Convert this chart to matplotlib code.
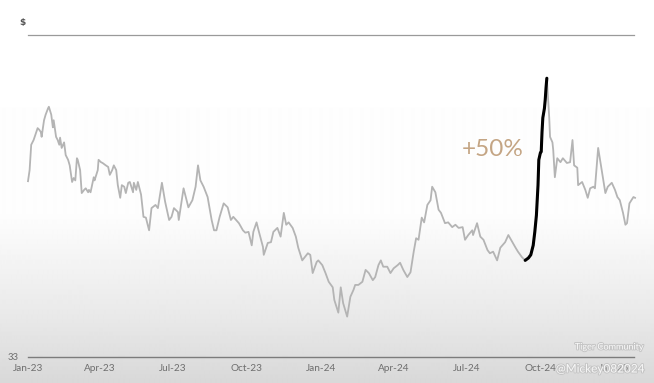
import matplotlib
matplotlib.use("Agg")
import matplotlib.pyplot as plt
import matplotlib.patheffects as pe
import numpy as np
import pandas as pd

# ---------------- data ----------------
start_date = "2022-12-30"
day_offsets = [
    2, 4, 6, 9, 12, 14, 16, 18, 19, 22, 24, 27, 28, 31, 33, 34, 37, 39, 41, 42,
    44, 47, 49, 52, 54, 57, 59, 61, 63, 64, 67, 69, 72, 74, 77, 78, 80, 84, 85, 89,
    90, 93, 95, 99, 102, 104, 107, 109, 112, 114, 117, 119, 122, 124, 127, 129, 133, 134, 137, 139,
    143, 146, 149, 153, 156, 161, 164, 169, 173, 178, 181, 184, 189, 190, 196, 199, 202, 207, 211, 214,
    217, 221, 226, 231, 234, 237, 241, 246, 251, 255, 258, 265, 270, 273, 277, 281, 283, 287, 290, 295,
    296, 301, 305, 308, 313, 317, 321, 324, 327, 332, 336, 339, 344, 351, 354, 357, 362, 364, 369, 373,
    377, 382, 384, 388, 389, 392, 395, 400, 404, 408, 410, 414, 419, 423, 427, 432, 435, 439, 442, 445,
    450, 454, 458, 463, 466, 470, 475, 479, 483, 486, 489, 493, 496, 500, 504, 506, 510, 514, 517, 522,
    526, 531, 535, 539, 544, 547, 551, 556, 557, 562, 566, 570, 575, 578, 582, 587, 591, 597, 601, 606,
    610, 613, 618, 622, 626, 629, 632, 634, 636, 637, 638, 639, 641, 642, 643, 644, 646, 647, 648, 649,
    652, 653, 656, 657, 659, 662, 666, 669, 674, 678, 681, 683, 687, 688, 693, 697, 700, 703, 707, 709,
    713, 718, 722, 725, 730, 734, 737, 740, 744, 747, 749, 752, 757, 759,
]
prices = [
    55.2, 56.6, 59.8, 60.4, 61.3, 61.9, 61.7, 61.4, 60.8, 62.9, 63.6, 64.4, 64.6, 63.6, 62.0, 62.9, 60.8, 60.4, 59.8, 60.7,
    59.4, 60.1, 58.5, 57.9, 57.2, 55.1, 55.6, 55.3, 58.1, 57.9, 56.6, 53.7, 54.1, 54.3, 53.8, 54.1, 53.8, 55.7, 55.3, 56.6,
    57.9, 57.6, 57.5, 57.2, 57.0, 56.0, 56.6, 57.2, 56.6, 54.7, 53.1, 54.7, 54.5, 53.7, 55.0, 55.1, 53.8, 55.0, 54.1, 55.1,
    53.5, 50.7, 50.6, 49.0, 51.8, 52.2, 51.8, 55.0, 52.6, 50.3, 50.7, 51.8, 51.3, 50.3, 54.3, 53.1, 51.9, 52.8, 54.5, 57.2,
    55.3, 54.5, 53.2, 50.3, 49.0, 49.0, 50.7, 52.4, 51.9, 50.3, 50.7, 49.9, 49.0, 48.7, 48.8, 47.1, 48.8, 50.0, 48.8, 46.9,
    45.9, 47.4, 47.5, 48.8, 49.3, 48.2, 51.2, 49.7, 50.0, 49.3, 48.2, 46.8, 45.2, 46.1, 45.9, 43.6, 45.0, 45.2, 44.6, 43.6,
    42.5, 41.8, 40.2, 38.9, 38.6, 41.8, 39.8, 38.1, 40.6, 41.5, 42.1, 42.1, 42.5, 44.0, 43.6, 42.7, 43.1, 44.6, 45.2, 44.4,
    44.4, 43.6, 44.2, 44.6, 44.9, 44.0, 43.1, 43.7, 46.3, 48.0, 47.8, 50.6, 50.0, 52.2, 52.8, 54.5, 53.8, 51.6, 51.2, 49.9,
    50.0, 49.4, 49.7, 49.3, 49.4, 47.8, 48.4, 49.0, 48.4, 49.9, 48.2, 47.8, 46.5, 46.1, 46.3, 45.2, 46.8, 47.5, 48.4, 47.5,
    46.8, 46.3, 45.6, 45.2, 45.5, 45.9, 47.1, 48.8, 50.9, 52.8, 54.7, 57.9, 58.8, 58.9, 61.4, 63.2, 64.4, 65.5, 67.0, 68.2,
    63.2, 60.8, 60.1, 59.1, 55.7, 58.1, 57.6, 58.1, 57.5, 57.6, 60.4, 57.2, 56.9, 54.7, 55.1, 54.1, 53.1, 54.3, 54.5, 54.3,
    59.4, 56.2, 53.7, 54.5, 55.0, 54.1, 53.2, 52.8, 51.2, 49.7, 49.9, 52.4, 53.2, 53.1,
]
rally_start_offset = 622
rally_end_offset = 649
rally_label = "+50%"

tick_dates = ["2023-01-01", "2023-04-01", "2023-07-01", "2023-10-01", "2024-01-01",
              "2024-04-01", "2024-07-01", "2024-10-01", "2025-01-01"]
tick_labels = ["Jan-23", "Apr-23", "Jul-23", "Oct-23", "Jan-24",
               "Apr-24", "Jul-24", "Oct-24", "Jan-25"]
y_bottom_value = 33
y_top_value = 73.66
y_bottom_label = "33"
y_unit_label = "$"

# ---------------- figure ----------------
W, H = 654, 383
fig = plt.figure(figsize=(W / 100, H / 100), dpi=100)

# background gradient (white top -> light grey bottom)
bg = fig.add_axes([0, 0, 1, 1], zorder=0)
rows = np.arange(H)
shade = np.interp(rows, [0, 215, 320, 383], [255, 253, 232, 216]) / 255.0
img = np.repeat(shade[:, None], 2, axis=1)
bg.imshow(img, cmap="gray", vmin=0, vmax=1, aspect="auto", extent=[0, 1, 0, 1],
          interpolation="bilinear")
bg.set_axis_off()

base = pd.Timestamp(start_date)
dates = base + pd.to_timedelta(day_offsets, unit="D")
prices_arr = np.array(prices)
offs = np.array(day_offsets)
mask = (offs >= rally_start_offset) & (offs <= rally_end_offset)

ax = fig.add_axes([28 / W, (H - 357) / H, 606 / W, 322 / H], zorder=1)
ax.patch.set_alpha(0)

ax.plot(dates, prices_arr, color="#b4b4b4", lw=1.3, clip_on=False, zorder=2,
        solid_joinstyle="round")
ax.plot(dates[mask], prices_arr[mask], color="black", lw=2.2, zorder=3,
        solid_capstyle="round", solid_joinstyle="round")

ax.set_ylim(y_bottom_value, y_top_value)
ax.set_xlim(base + pd.Timedelta(days=3.2), base + pd.Timedelta(days=757.7))

for s in ["left", "right"]:
    ax.spines[s].set_visible(False)
ax.spines["top"].set_color("#9a9a9a")
ax.spines["top"].set_linewidth(0.9)
ax.spines["bottom"].set_color("#7c7c7c")
ax.spines["bottom"].set_linewidth(1.0)

ax.set_xticks(pd.to_datetime(tick_dates))
ax.set_xticklabels(tick_labels, fontsize=7.2, color="#6e6e6e", family="Lato")
ax.tick_params(axis="x", length=0, pad=5)
ax.set_yticks([])

fig.text(13 / W, 1 - 357 / H, y_bottom_label, fontsize=6.8, color="#6e6e6e",
         ha="center", va="center", family="Lato")
fig.text(22 / W, 1 - 22 / H, y_unit_label, fontsize=6.5, color="#555555",
         ha="center", va="center", family="DejaVu Sans", fontweight="bold")

fig.text(493 / W, 1 - 149 / H, rally_label, fontsize=17.5, color="#c4a584",
         ha="center", va="center", family="Lato")

# watermark
wm = [pe.withStroke(linewidth=1.4, foreground="#c2c2c2")]
fig.text(609 / W, 1 - 347 / H, "Tiger Community", fontsize=6.5, color="white",
         ha="center", va="center", family="Lato", path_effects=wm, alpha=0.9)
fig.text(600 / W, 1 - 369 / H, "@Mickey082024", fontsize=8.5, color="white",
         ha="center", va="center", family="Lato", path_effects=wm, alpha=0.85)

fig.savefig("out.png", dpi=100)
